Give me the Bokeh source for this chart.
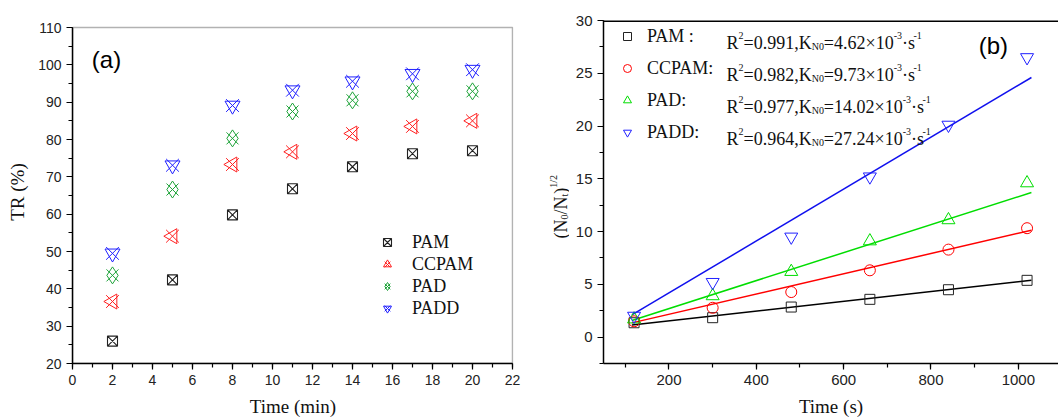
import math
from bokeh.plotting import figure
from bokeh.layouts import row
from bokeh.models import (SingleIntervalTicker, Legend, LegendItem, Label, Span,
                          BoxAnnotation)
from bokeh.embed import file_html
from bokeh.resources import INLINE

# ---------------- data: panel (a) ----------------
time_min = [2, 5, 8, 11, 14, 17, 20]
tr_pam = [26.0, 42.4, 59.8, 66.8, 72.7, 76.2, 77.0]
tr_ccpam = [36.6, 54.1, 73.3, 76.7, 81.6, 83.5, 85.0]
tr_pad = [43.6, 66.6, 80.3, 87.5, 90.5, 92.9, 92.9]
tr_padd = [49.5, 73.1, 89.1, 93.2, 95.6, 97.6, 98.7]
names_a = ["PAM", "CCPAM", "PAD", "PADD"]

# ---------------- data: panel (b) ----------------
time_s = [120, 300, 480, 660, 840, 1020]
n_pam = [1.36, 1.84, 2.85, 3.58, 4.49, 5.38]
n_ccpam = [1.50, 2.78, 4.27, 6.33, 8.29, 10.32]
n_pad = [1.70, 3.90, 6.20, 9.10, 11.10, 14.60]
n_padd = [2.00, 5.20, 9.50, 15.20, 20.10, 26.50]
fit_time = [115, 1030]
fit_pam = [1.15, 5.38]
fit_ccpam = [1.35, 10.13]
fit_pad = [1.58, 13.70]
fit_padd = [2.10, 24.60]
names_b = ["PAM :", "CCPAM:", "PAD:", "PADD:"]
r2_text = ["0.991", "0.982", "0.977", "0.964"]
k_text = ["4.62", "9.73", "14.02", "27.24"]

RED = "#FF2020"
GREEN_A = "#1FA33A"
GREEN_B = "#00DD00"
BLUE = "#2020FF"
SERIF = "Liberation Serif"
SANS = "Liberation Sans"

H = 419
TOP, BOTTOM = 20, 363          # common frame top / bottom (page px)
BT, BB = TOP, H - BOTTOM        # borders


def style_axes(p, tick_size):
    for ax in p.axis:
        ax.axis_line_width = 1.5
        ax.axis_line_color = "black"
        ax.major_tick_out = 6
        ax.major_tick_in = 0
        ax.minor_tick_out = 4
        ax.minor_tick_in = 0
        ax.major_tick_line_width = 1.2
        ax.minor_tick_line_width = 1.2
        ax.major_tick_line_color = "black"
        ax.minor_tick_line_color = "black"
        ax.major_label_text_font = SANS
        ax.major_label_text_font_size = tick_size
        ax.major_label_text_color = "#222222"
        ax.axis_label_text_font = SERIF
        ax.axis_label_text_font_style = "normal"
        ax.axis_label_text_font_size = "19px"
        ax.axis_label_text_color = "#111111"


# ================= panel (a) =================
# box of panel (a): x 0..22 at page px 72..512, y 20..110 at page px 363..27
A_TOP = 27
a_scale = (BOTTOM - A_TOP) / 90.0
a_yend = 110 + (A_TOP - TOP) / a_scale
a_xend = 22 + 1 / 20.0
p1 = figure(width=540, height=H, x_range=(0, a_xend), y_range=(20, a_yend),
            output_backend="svg", toolbar_location=None,
            min_border_left=72, min_border_right=540 - 513,
            min_border_top=BT, min_border_bottom=BB)
p1.grid.visible = False
p1.outline_line_color = None
p1.background_fill_color = "white"
p1.xaxis.ticker = SingleIntervalTicker(interval=2, num_minor_ticks=2)
p1.yaxis.ticker = SingleIntervalTicker(interval=10, num_minor_ticks=2)
p1.xaxis.bounds = (0, 22)
p1.yaxis.bounds = (20, 110)
p1.xaxis.axis_label = "Time (min)"
p1.yaxis.axis_label = "TR (%)"
style_axes(p1, "14px")
p1.xaxis.axis_label_standoff = 8
p1.yaxis.axis_label_standoff = 7
p1.add_layout(BoxAnnotation(left=0, right=22, bottom=20, top=110,
                            fill_alpha=0, line_color="black", line_width=1.5))

r_pam = [p1.scatter(time_min, tr_pam, marker="square_x", size=10,
                    fill_color=None, line_color="#222222", line_width=1.1)]
r_cc = [p1.scatter(time_min, tr_ccpam, marker="x", size=18, line_color=RED, line_width=1.0),
        p1.scatter(time_min, tr_ccpam, marker="triangle", angle=math.pi / 2, size=15,
                   fill_color=None, line_color=RED, line_width=1.0)]
r_pad = [p1.scatter(time_min, tr_pad, marker="x", size=17, line_color=GREEN_A, line_width=1.0),
         p1.scatter(time_min, tr_pad, marker="diamond", size=17,
                    fill_color=None, line_color=GREEN_A, line_width=1.0)]
r_padd = [p1.scatter(time_min, tr_padd, marker="x", size=18, line_color=BLUE, line_width=1.0),
          p1.scatter(time_min, tr_padd, marker="inverted_triangle", size=15,
                     fill_color=None, line_color=BLUE, line_width=1.0)]

leg_a = Legend(items=[LegendItem(label=names_a[0], renderers=r_pam),
                      LegendItem(label=names_a[1], renderers=r_cc),
                      LegendItem(label=names_a[2], renderers=r_pad),
                      LegendItem(label=names_a[3], renderers=r_padd)],
               location=(305, BOTTOM - 319), glyph_width=20, glyph_height=22,
               label_height=22, spacing=0, padding=0, margin=0,
               label_standoff=15, border_line_color=None,
               background_fill_alpha=0, label_text_font=SERIF,
               label_text_font_size="18px", label_text_color="#111111")
p1.add_layout(leg_a, "center")

p1.add_layout(Label(x=1.7, y=101.5, text="(a)", text_align="center",
                    text_baseline="middle", text_font=SANS,
                    text_font_size="24px", text_color="black"))

# ================= strip holding the rotated y label of panel (b) =================
STRIP_L, STRIP_W = 540, 29
pl = figure(width=STRIP_W, height=H, x_range=(0, STRIP_W),
            y_range=(H - BOTTOM, H - TOP),
            output_backend="svg", toolbar_location=None,
            x_axis_type=None, y_axis_type=None,
            min_border_left=0, min_border_right=0, min_border_top=BT,
            min_border_bottom=BB)
pl.grid.visible = False
pl.outline_line_color = None

# ================= panel (b) =================
XR = (50, 1092)
YR = (-2.5, 30)
FL = 603
FW = 1058 - FL

p2 = figure(width=1058 - STRIP_L - STRIP_W, height=H, x_range=XR, y_range=YR,
            output_backend="svg", toolbar_location=None,
            min_border_left=FL - STRIP_L - STRIP_W, min_border_right=0,
            min_border_top=BT, min_border_bottom=BB)
p2.grid.visible = False
p2.outline_line_color = None
p2.background_fill_color = "white"
p2.xaxis.ticker = SingleIntervalTicker(interval=200, num_minor_ticks=2)
p2.yaxis.ticker = SingleIntervalTicker(interval=5, num_minor_ticks=2)
p2.xaxis.axis_label = "Time (s)"
style_axes(p2, "15px")
p2.xaxis.axis_label_standoff = 8
p2.add_layout(Span(location=YR[1], dimension="width", line_color="black",
                   line_width=3))


def rx(px):
    return XR[0] + (px - FL) / FW * (XR[1] - XR[0])


def ry(py):
    return YR[1] - (py - TOP) / (BOTTOM - TOP) * (YR[1] - YR[0])


p2.line(fit_time, fit_pam, line_color="black", line_width=1.5)
p2.line(fit_time, fit_ccpam, line_color="#FF0000", line_width=1.5)
p2.line(fit_time, fit_pad, line_color=GREEN_B, line_width=1.5)
p2.line(fit_time, fit_padd, line_color="#1010EE", line_width=1.5)

m_pam = p2.scatter(time_s, n_pam, marker="square", size=10, fill_color=None,
                   line_color="#222222", line_width=1.0)
m_cc = p2.scatter(time_s, n_ccpam, marker="circle", size=11, fill_color=None,
                  line_color="#FF0000", line_width=1.0)
m_pad = p2.scatter(time_s, n_pad, marker="triangle", size=13, fill_color=None,
                   line_color=GREEN_B, line_width=1.0)
m_padd = p2.scatter(time_s, n_padd, marker="inverted_triangle", size=13,
                    fill_color=None, line_color=BLUE, line_width=1.0)

leg_b = Legend(items=[LegendItem(label=names_b[0], renderers=[m_pam]),
                      LegendItem(label=names_b[1], renderers=[m_cc]),
                      LegendItem(label=names_b[2], renderers=[m_pad]),
                      LegendItem(label=names_b[3], renderers=[m_padd])],
               location=(14, BOTTOM - TOP - 128), glyph_width=20, glyph_height=32,
               label_height=32, spacing=0, padding=0, margin=0,
               label_standoff=10, border_line_color=None,
               background_fill_alpha=0, label_text_font=SERIF,
               label_text_font_size="18px", label_text_color="#111111")
p2.add_layout(leg_b, "center")

# Times New Roman / Liberation Serif advance widths (per em)
W = {"0": .5, "1": .5, "2": .5, "3": .5, "4": .5, "5": .5, "6": .5, "7": .5,
     "8": .5, "9": .5, ".": .25, ",": .25, "=": .564, "R": .667, "K": .722,
     "N": .722, "\u00d7": .564, "\u00b7": .25, "s": .389, "-": .333, "(": .333,
     ")": .333, "/": .278, "t": .278}
MAIN, SMALL = 18, 10


def twidth(s, size):
    return sum(W.get(c, .5) for c in s) * size


def add_pieces(p, x0, base, pieces, conv_x, conv_y, vertical=False):
    pos = x0
    for txt, kind in pieces:
        size = MAIN if kind == "n" else SMALL
        shift = {"n": 0, "sup": -7, "sub": 4}[kind]
        if not vertical:
            lab = Label(x=conv_x(pos), y=conv_y(base + shift), text=txt,
                        text_align="left", text_baseline="alphabetic",
                        text_font=SERIF, text_font_size=f"{size}px",
                        text_color="#111111")
            pos += twidth(txt, size)
        else:
            lab = Label(x=conv_x(base + shift), y=conv_y(pos), text=txt,
                        text_align="left", text_baseline="alphabetic",
                        text_font=SERIF, text_font_size=f"{size}px",
                        text_color="#111111", angle=math.pi / 2)
            pos -= twidth(txt, size)
        p.add_layout(lab)


row_centers = [36, 68, 100, 132]
for i in range(4):
    add_pieces(p2, 726, row_centers[i] + 6,
               [("R", "n"), ("2", "sup"), ("=" + r2_text[i] + ",K", "n"),
                ("N0", "sub"), ("=" + k_text[i] + "\u00d710", "n"), ("-3", "sup"),
                ("\u00b7s", "n"), ("-1", "sup")], rx, ry)

# rotated y-axis label (N0/Nt)^1/2, drawn in the strip figure
add_pieces(pl, 238, 560,
           [("(N", "n"), ("0", "sub"), ("/N", "n"), ("t", "sub"), (")", "n"),
            ("1/2", "sup")],
           lambda px: px - STRIP_L, lambda py: H - py, vertical=True)

p2.add_layout(Label(x=943, y=27.6, text="(b)", text_align="center",
                    text_baseline="middle", text_font=SANS,
                    text_font_size="24px", text_color="black"))

layout = row(p1, pl, p2)
open("out.html", "w").write(file_html(layout, INLINE))
